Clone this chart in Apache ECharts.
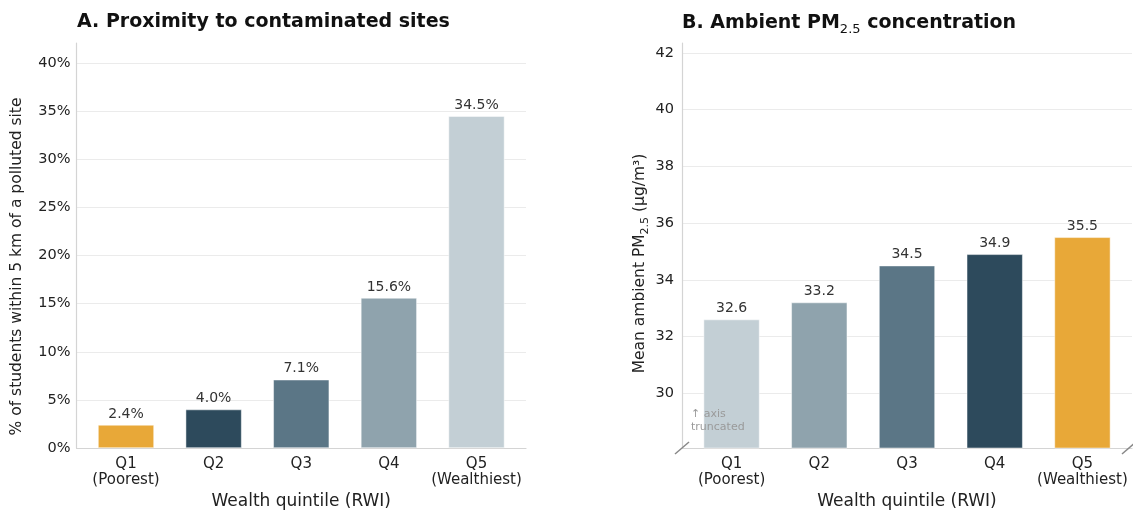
<!DOCTYPE html>
<html>
<head>
<meta charset="utf-8">
<script src="https://cdn.jsdelivr.net/npm/echarts@6/dist/echarts.min.js"></script>
<style>
  html, body { margin: 0; padding: 0; background: #ffffff; }
  #chart { width: 1133px; height: 510px; }
</style>
</head>
<body>
<div id="chart"></div>
<script>
// Wealth quintiles shared by both panels
const categories = ['Q1\n(Poorest)', 'Q2', 'Q3', 'Q4', 'Q5\n(Wealthiest)'];

// Panel A: share of students within 5 km of a polluted site (%)
const proximityPct = [2.4, 4.0, 7.1, 15.6, 34.5];
const proximityColors = ['#E8A838', '#2D4A5C', '#5B7686', '#8FA3AD', '#C3CFD5'];

// Panel B: mean ambient PM2.5 (µg/m³)
const pm25 = [32.6, 33.2, 34.5, 34.9, 35.5];
const pm25Colors = ['#C3CFD5', '#8FA3AD', '#5B7686', '#2D4A5C', '#E8A838'];

const FONT = 'DejaVu Sans';
const TEXT = '#222222';
const GRID_LINE = '#ebebeb';
const AXIS_LINE = '#d4d4d4';

const chart = echarts.init(document.getElementById('chart'), null, { renderer: 'canvas' });

function xAxisFor(gridIndex) {
  return {
    type: 'value',
    gridIndex: gridIndex,
    min: -0.565,
    max: 4.565,
    axisLine: { show: true, onZero: false, lineStyle: { color: AXIS_LINE, width: 1.2 } },
    axisTick: { show: false },
    splitLine: { show: false },
    axisLabel: {
      customValues: [0, 1, 2, 3, 4],
      formatter: v => categories[Math.round(v)],
      color: TEXT, fontFamily: FONT, fontSize: 15, lineHeight: 16, margin: 8
    },
    name: 'Wealth quintile (RWI)',
    nameLocation: 'middle',
    nameGap: 45,
    nameTextStyle: { color: TEXT, fontFamily: FONT, fontSize: 17 }
  };
}

function barSeries(values, colors, axisIndex, fmt) {
  return {
    type: 'bar',
    xAxisIndex: axisIndex,
    yAxisIndex: axisIndex,
    barWidth: 56,
    data: values.map((v, i) => ({ value: [i, v], itemStyle: { color: colors[i] } })),
    label: {
      show: true,
      position: 'top',
      distance: 4,
      formatter: p => fmt(p.value[1]),
      color: '#333333', fontFamily: FONT, fontSize: 14
    },
    itemStyle: { borderColor: 'rgba(255,255,255,0.8)', borderWidth: 0.6 },
    emphasis: { disabled: true },
    silent: true
  };
}

const option = {
  animation: false,
  backgroundColor: '#ffffff',
  title: [
    {
      text: 'A. Proximity to contaminated sites',
      left: 77, top: 13, padding: 0,
      textStyle: { color: '#111111', fontFamily: FONT, fontSize: 19, fontWeight: 'bold' }
    },
    {
      text: '{m|B. Ambient PM}{s|2.5}{m| concentration}',
      left: 682, top: 10, padding: 0,
      textStyle: {
        rich: {
          m: { color: '#111111', fontFamily: FONT, fontSize: 19, fontWeight: 'bold', lineHeight: 26 },
          s: { color: '#111111', fontFamily: FONT, fontSize: 13, fontWeight: 'normal', verticalAlign: 'bottom', lineHeight: 26 }
        }
      }
    }
  ],
  grid: [
    { left: 76.5, top: 43, width: 449.5, height: 405, containLabel: false, outerBoundsMode: 'none' },
    { left: 682, top: 43, width: 450, height: 405, containLabel: false, outerBoundsMode: 'none' }
  ],
  xAxis: [xAxisFor(0), xAxisFor(1)],
  yAxis: [
    {
      type: 'value', gridIndex: 0,
      min: 0, max: 42.1, interval: 5,
      axisLine: { show: true, onZero: false, lineStyle: { color: AXIS_LINE, width: 1.2 } },
      axisTick: { show: false },
      splitLine: { show: true, showMaxLine: false, lineStyle: { color: GRID_LINE, width: 1 } },
      axisLabel: {
        formatter: '{value}%', showMaxLabel: false,
        color: TEXT, fontFamily: FONT, fontSize: 14.5, margin: 6
      },
      name: '% of students within 5 km of a polluted site',
      nameLocation: 'middle', nameGap: 52, nameRotate: 90,
      nameTextStyle: { color: TEXT, fontFamily: FONT, fontSize: 15.5, padding: [0, 42, 0, 0] }
    },
    {
      type: 'value', gridIndex: 1,
      min: 28.07, max: 42.35, splitNumber: 7,
      axisLine: { show: true, onZero: false, lineStyle: { color: AXIS_LINE, width: 1.2 } },
      axisTick: { show: false },
      splitLine: { show: true, showMinLine: false, showMaxLine: false, lineStyle: { color: GRID_LINE, width: 1 } },
      axisLabel: {
        showMinLabel: false, showMaxLabel: false,
        color: TEXT, fontFamily: FONT, fontSize: 14.5, margin: 8
      },
      name: '{m|Mean ambient PM}{s|2.5}{m| (µg/m³)}',
      nameLocation: 'middle', nameGap: 31, nameRotate: 90,
      nameTextStyle: {
        padding: [0, 36, 0, 0],
        rich: {
          m: { color: TEXT, fontFamily: FONT, fontSize: 15.5, lineHeight: 22 },
          s: { color: TEXT, fontFamily: FONT, fontSize: 11, verticalAlign: 'bottom', lineHeight: 22 }
        }
      }
    }
  ],
  series: [
    barSeries(proximityPct, proximityColors, 0, v => v.toFixed(1) + '%'),
    barSeries(pm25, pm25Colors, 1, v => v.toFixed(1))
  ]
};

chart.setOption(option);

// Axis-break slashes at both ends of panel B's baseline, plus the truncation note
const yBase = chart.convertToPixel({ yAxisIndex: 1 }, 28.07);
const xLeft = chart.convertToPixel({ xAxisIndex: 1 }, -0.565);
const xRight = chart.convertToPixel({ xAxisIndex: 1 }, 4.565);
const slash = (cx, cy) => ({
  type: 'line',
  shape: { x1: cx - 7, y1: cy + 6, x2: cx + 7, y2: cy - 6 },
  style: { stroke: '#888888', lineWidth: 1.5 },
  silent: true, z: 10
});
chart.setOption({
  graphic: [
    slash(xLeft, yBase),
    slash(xRight - 3, yBase),
    {
      type: 'text',
      left: xLeft + 9,
      top: yBase - 40,
      style: {
        text: '↑ axis\ntruncated',
        fill: '#9a9a9a', font: '11px "DejaVu Sans"', lineHeight: 12.5
      },
      silent: true, z: 10
    }
  ]
});
</script>
</body>
</html>
